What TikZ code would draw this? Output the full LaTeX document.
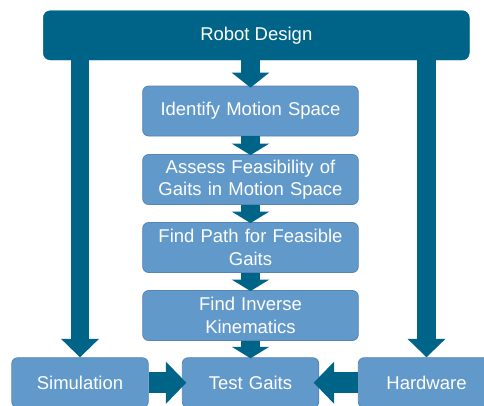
\documentclass[tikz,border=0pt]{standalone}
\usepackage{fontspec}
\setmainfont{Liberation Sans}
\usetikzlibrary{arrows.meta}

\definecolor{deepteal}{HTML}{006489}
\definecolor{stepfill}{HTML}{6299CB}
\definecolor{stepline}{HTML}{5585B5}

\tikzset{
  headbox/.style={rectangle, rounded corners=7pt, fill=deepteal, draw=deepteal,
    inner sep=0pt, minimum width=426pt, minimum height=49.3pt,
    text=white, font=\fontsize{18.5pt}{22.5pt}\selectfont},
  stepbox/.style={rectangle, rounded corners=6pt, fill=stepfill, draw=stepline,
    line width=0.8pt, inner sep=0pt, minimum height=50pt, align=center,
    text=white, font=\fontsize{18.5pt}{22.5pt}\selectfont},
  midbox/.style={stepbox, minimum width=215.6pt, text width=212pt},
  rowbox/.style={stepbox, minimum width=136.5pt, text width=134pt},
  vflow/.style={draw=deepteal, line width=18.5pt, line cap=butt,
    -{Triangle[width=37pt, length=#1]}},
  hflow/.style={draw=deepteal, line width=21pt, line cap=butt,
    -{Triangle[width=41pt, length=20.5pt]}},
}

\begin{document}
\begin{tikzpicture}[x=1pt, y=-1pt]
  \useasboundingbox (0,0) rectangle (484,405);
  \begin{scope}
    \clip (0,0) rectangle (484,405);

    % top banner
    \node[headbox] (design) at (256.3,35.35) {Robot Design};

    % central pipeline
    \node[midbox] (motion)   at (250.5,111)   {Identify Motion Space};
    \node[midbox] (assess)   at (250.5,179.5) {Assess Feasibility of\\Gaits in Motion Space};
    \node[midbox] (path)     at (250.5,247.5) {Find Path for Feasible\\Gaits};
    \node[midbox] (inverse)  at (250.5,315.5) {Find Inverse\\Kinematics};

    % bottom row
    \node[rowbox] (sim)  at (80,382.7)    {Simulation};
    \node[rowbox] (test) at (250.5,382.7) {Test Gaits};
    \node[rowbox] (hw)   at (426.5,382.7) {Hardware};

    % flow arrows
    \draw[vflow=15pt]   (design.south -| motion.north) -- ([yshift=-2pt]motion.north);
    \draw[vflow=11.5pt] (motion.south)  -- ([yshift=-1pt]assess.north);
    \draw[vflow=11.5pt] (assess.south)  -- ([yshift=-1pt]path.north);
    \draw[vflow=11.5pt] (path.south)    -- ([yshift=-1pt]inverse.north);
    \draw[vflow=11.5pt] (inverse.south) -- ([yshift=-1pt]test.north);

    \draw[vflow=18.5pt] (design.south -| sim.north) -- (sim.north);
    \draw[vflow=18.5pt] (design.south -| hw.north)  -- (hw.north);

    \draw[hflow] (sim.east) -- ([xshift=4.5pt]test.west);
    \draw[hflow] (hw.west)  -- ([xshift=-5.5pt]test.east);
  \end{scope}
\end{tikzpicture}
\end{document}
